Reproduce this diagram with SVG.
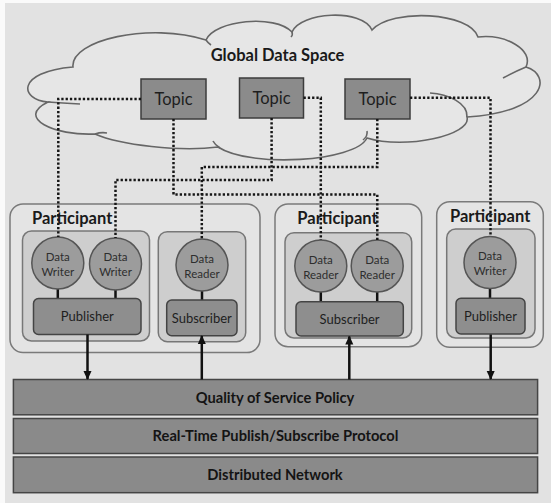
<svg xmlns="http://www.w3.org/2000/svg" width="551" height="503" viewBox="0 0 551 503">
<defs>
<marker id="ah" markerUnits="userSpaceOnUse" markerWidth="9" markerHeight="9" refX="8" refY="4.5" orient="auto">
<path d="M0,0.5 L9,4.5 L0,8.5 Z" fill="#111"/>
</marker>
<style>
.bg{fill:#e2e2e2}
.cloud{fill:#e6e6e6;stroke:#666;stroke-width:1.6}
.cl{fill:none;stroke:#666;stroke-width:1.6}
.topic{fill:#8b8b8b;stroke:#3c3c3c;stroke-width:1.5}
.ttl{font-family:Lato,"Open Sans",sans-serif;font-size:16.5px;fill:#1e1e1e;text-anchor:middle}
.gds{font-family:Lato,"Open Sans",sans-serif;font-size:16.5px;font-weight:bold;fill:#1a1a1a;text-anchor:middle}
.outer{fill:#e4e4e4;stroke:#7a7a7a;stroke-width:1.5}
.inner{fill:#cecece;stroke:#777;stroke-width:1.5}
.box{fill:#8e8e8e;stroke:#444;stroke-width:1.5}
.circ{fill:#9c9c9c;stroke:#555;stroke-width:1.5}
.part{font-family:Lato,"Open Sans",sans-serif;font-size:16.5px;font-weight:bold;fill:#1a1a1a}
.ct{font-family:Lato,"Open Sans",sans-serif;font-size:11.5px;fill:#2e2e2e;text-anchor:middle}
.bt{font-family:Lato,"Open Sans",sans-serif;font-size:13px;fill:#1e1e1e;text-anchor:middle}
.bar{fill:#8a8a8a;stroke:#454545;stroke-width:1.5}
.bart{font-family:Lato,"Open Sans",sans-serif;font-size:14.7px;font-weight:bold;fill:#141414;text-anchor:middle}
.stem{stroke:#111;stroke-width:2.5}
.dot{fill:none;stroke:#161616;stroke-width:2.5;stroke-dasharray:2.3 2}
.arr{stroke:#111;stroke-width:2.5;marker-end:url(#ah)}
</style>
</defs>
<rect width="551" height="503" fill="#fafafa"/>
<rect class="bg" x="5" y="3" width="546" height="500"/>

<g id="cloud">
<path class="cloud" d="M73,67 C70,40 150,22 206,40 C215,20 275,14 292,32 C300,12 362,8 372,30 C392,8 470,12 478,37 C506,34 534,50 526,67 C552,75 547,112 467,117 C472,135 405,150 367,138 C355,162 250,168 218,147 C180,152 120,145 95,134 C55,136 15,118 48,102 C20,100 15,72 73,67 Z"/>
<path class="cl" d="M48,102 Q62,103 80,104"/>
<path class="cl" d="M95,134 Q101,132 107,133"/>
<path class="cl" d="M213,141 Q215,145 220,148"/>
<path class="cl" d="M367,131 Q368,136 363,140"/>
<path class="cl" d="M430,93 C448,94 468,103 467,117"/>
<path class="cl" d="M503,78 Q514,72 526,67"/>
<path class="cl" d="M206,40 Q208,43 211,45"/>
<path class="cl" d="M292,32 Q293,35 291,37"/>
<text class="gds" x="277.5" y="61">Global Data Space</text>
</g>

<g id="topic1"><rect class="topic" x="141" y="79" width="65" height="40"/><text class="ttl" x="173.5" y="105">Topic</text></g>
<g id="topic2"><rect class="topic" x="239.5" y="78" width="64" height="40"/><text class="ttl" x="271.5" y="104">Topic</text></g>
<g id="topic3"><rect class="topic" x="345" y="79" width="65" height="40"/><text class="ttl" x="377.5" y="105">Topic</text></g>

<g id="participant1">
<rect class="outer" x="10" y="204" width="250" height="148.5" rx="13"/>
<text class="part" x="32" y="223.5">Participant</text>
<g id="p1-publisher-group">
<rect class="inner" x="22.5" y="231" width="127" height="110" rx="9"/>
<line class="stem" x1="57.8" y1="288" x2="57.8" y2="298.5"/>
<line class="stem" x1="115.5" y1="289" x2="115.5" y2="298.5"/>
<g id="p1-writer1"><circle class="circ" cx="57.8" cy="263" r="26"/><text class="ct" x="57.8" y="260.5">Data</text><text class="ct" x="57.8" y="275.5">Writer</text></g>
<g id="p1-writer2"><circle class="circ" cx="115.5" cy="264" r="26"/><text class="ct" x="115.5" y="261">Data</text><text class="ct" x="115.5" y="276">Writer</text></g>
<g id="p1-publisher"><rect class="box" x="33.5" y="298.5" width="107.5" height="36" rx="5"/><text class="bt" x="87.3" y="321">Publisher</text></g>
</g>
<g id="p1-subscriber-group">
<rect class="inner" x="158.3" y="231.7" width="87.4" height="110" rx="9"/>
<line class="stem" x1="202" y1="291" x2="202" y2="300"/>
<g id="p1-reader"><circle class="circ" cx="202" cy="265" r="26"/><text class="ct" x="202" y="263">Data</text><text class="ct" x="202" y="278">Reader</text></g>
<g id="p1-subscriber"><rect class="box" x="166.7" y="300" width="70.3" height="35.7" rx="5"/><text class="bt" x="201.8" y="322.5">Subscriber</text></g>
</g>
</g>

<g id="participant2">
<rect class="outer" x="275" y="204" width="146.7" height="142.7" rx="13"/>
<text class="part" x="297.3" y="223.5">Participant</text>
<rect class="inner" x="285" y="232.7" width="126.7" height="105.3" rx="9"/>
<line class="stem" x1="320.8" y1="292" x2="320.8" y2="302"/>
<line class="stem" x1="377.2" y1="292" x2="377.2" y2="302"/>
<g id="p2-reader1"><circle class="circ" cx="320.8" cy="266" r="26"/><text class="ct" x="320.8" y="263.5">Data</text><text class="ct" x="320.8" y="278.5">Reader</text></g>
<g id="p2-reader2"><circle class="circ" cx="377.2" cy="266" r="26"/><text class="ct" x="377.2" y="263.5">Data</text><text class="ct" x="377.2" y="278.5">Reader</text></g>
<g id="p2-subscriber"><rect class="box" x="296" y="301.7" width="107.3" height="34.3" rx="5"/><text class="bt" x="349.6" y="323.5">Subscriber</text></g>
</g>

<g id="participant3">
<rect class="outer" x="436.7" y="201.7" width="106.6" height="145.6" rx="13"/>
<text class="part" x="450" y="221.7">Participant</text>
<rect class="inner" x="446.7" y="229" width="88.3" height="109" rx="9"/>
<line class="stem" x1="490" y1="288.5" x2="490" y2="298.5"/>
<g id="p3-writer"><circle class="circ" cx="490" cy="262.5" r="26"/><text class="ct" x="490" y="260">Data</text><text class="ct" x="490" y="275">Writer</text></g>
<g id="p3-publisher"><rect class="box" x="456" y="298.3" width="69" height="35.7" rx="5"/><text class="bt" x="490.5" y="321">Publisher</text></g>
</g>

<g id="layers">
<g id="qos"><rect class="bar" x="13.4" y="379.5" width="524.2" height="35.3"/><text class="bart" x="275" y="403">Quality of Service Policy</text></g>
<g id="rtps"><rect class="bar" x="13.4" y="418.5" width="524.2" height="35"/><text class="bart" x="275.5" y="441">Real-Time Publish/Subscribe Protocol</text></g>
<g id="network"><rect class="bar" x="13.4" y="457" width="524.2" height="35.7"/><text class="bart" x="275" y="480">Distributed Network</text></g>
</g>

<g id="connectors">
<polyline class="dot" points="141,99 58.3,99 58.3,237"/>
<polyline class="dot" points="173.5,119 173.5,194.5 377.3,194.5 377.3,240"/>
<polyline class="dot" points="271.6,118 271.6,180 115.5,180 115.5,238"/>
<polyline class="dot" points="303.5,97.7 320.8,97.7 320.8,240"/>
<polyline class="dot" points="377.3,119 377.3,167 201.8,167 201.8,239"/>
<polyline class="dot" points="410,97.7 490.5,97.7 490.5,236.5"/>
<line class="arr" x1="87.5" y1="334.5" x2="87.5" y2="379"/>
<line class="arr" x1="201.8" y1="379.5" x2="201.8" y2="336"/>
<line class="arr" x1="349.3" y1="379.5" x2="349.3" y2="336.5"/>
<line class="arr" x1="490.7" y1="334.5" x2="490.7" y2="379"/>
</g>
</svg>
